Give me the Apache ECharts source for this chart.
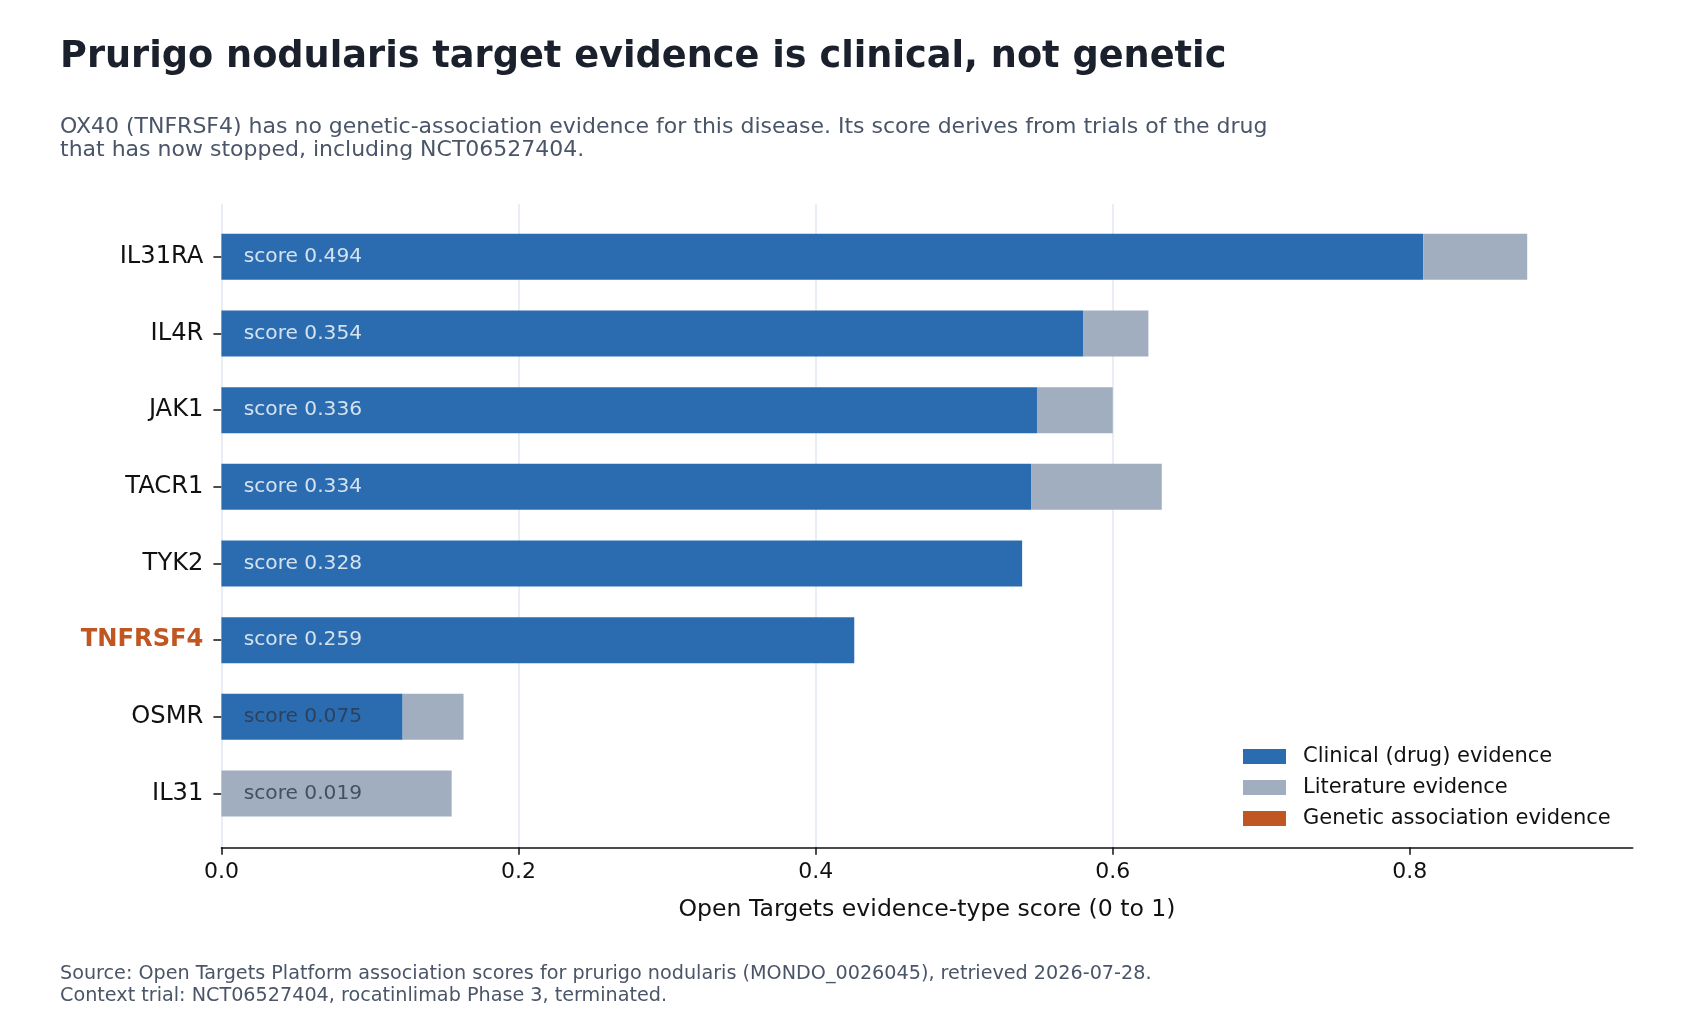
<!DOCTYPE html>
<html>
<head>
<meta charset="utf-8">
<script src="https://cdn.jsdelivr.net/npm/echarts@6/dist/echarts.min.js"></script>
<style>
  html, body { margin: 0; padding: 0; background: #fff; }
  #chart { width: 1700px; height: 1020px; }
</style>
</head>
<body>
<div id="chart"></div>
<script>
// values
var genes = ['IL31RA', 'IL4R', 'JAK1', 'TACR1', 'TYK2', 'TNFRSF4', 'OSMR', 'IL31'];
var clinical = [0.809, 0.580, 0.549, 0.545, 0.539, 0.426, 0.122, 0];
var literature = [0.070, 0.044, 0.051, 0.088, 0, 0, 0.041, 0.155];
var genetic = [0, 0, 0, 0, 0, 0, 0, 0];
var scores = [0.494, 0.354, 0.336, 0.334, 0.328, 0.259, 0.075, 0.019];
var xTicks = [0, 0.2, 0.4, 0.6, 0.8];
var highlightGene = 'TNFRSF4';

var FONT = '"DejaVu Sans", sans-serif';
var BLUE = '#2b6cb0', GRAY = '#a0aec0', ORANGE = '#c05621';
var X_MAX = 0.95;

var chart = echarts.init(document.getElementById('chart'));

chart.setOption({
    backgroundColor: '#fff',
    animation: false,
    textStyle: { fontFamily: FONT },
    title: [
        {
            text: 'Prurigo nodularis target evidence is clinical, not genetic',
            left: 60, top: 39, padding: 0,
            textStyle: { fontSize: 36.7, fontWeight: 'bold', color: '#1a202c', fontFamily: FONT }
        },
        {
            text: 'OX40 (TNFRSF4) has no genetic-association evidence for this disease. Its score derives from trials of the drug\nthat has now stopped, including NCT06527404.',
            left: 60, top: 116, padding: 0,
            textStyle: { fontSize: 22, fontWeight: 'normal', lineHeight: 23, color: '#4a5568', fontFamily: FONT }
        },
        {
            text: 'Source: Open Targets Platform association scores for prurigo nodularis (MONDO_0026045), retrieved 2026-07-28.\nContext trial: NCT06527404, rocatinlimab Phase 3, terminated.',
            left: 60, top: 963, padding: 0,
            textStyle: { fontSize: 19.2, fontWeight: 'normal', lineHeight: 22, color: '#4a5568', fontFamily: FONT }
        }
    ],
    legend: {
        data: ['Clinical (drug) evidence', 'Literature evidence', 'Genetic association evidence'],
        orient: 'vertical',
        left: 1243, top: 746,
        padding: 0,
        icon: 'rect',
        itemWidth: 43, itemHeight: 15, itemGap: 10,
        selectedMode: false,
        textStyle: { fontSize: 21, color: '#111', fontFamily: FONT, padding: [0, 0, 0, 12] }
    },
    grid: [
        // bars
        { left: 221.4, right: 67.3, top: 218.5, bottom: 188.2 },
        // visible x axis and gridlines
        { left: 221.4, right: 67.3, top: 204, bottom: 172.7 }
    ],
    xAxis: [
        { type: 'value', gridIndex: 0, min: 0, max: X_MAX, show: false },
        {
            type: 'value', gridIndex: 1, min: 0, max: X_MAX, interval: 0.2,
            name: 'Open Targets evidence-type score (0 to 1)',
            nameLocation: 'middle', nameGap: 51,
            nameTextStyle: { fontSize: 23.6, color: '#111', fontFamily: FONT },
            axisLine: { show: true, lineStyle: { color: '#111', width: 1.6 } },
            axisTick: { show: true, length: 7.5, lineStyle: { color: '#111', width: 1.5 }, customValues: xTicks },
            axisLabel: {
                fontSize: 22, color: '#111', margin: 14, customValues: xTicks,
                formatter: function (v) { return v.toFixed(1); }
            },
            splitLine: { show: true, showMaxLine: false, lineStyle: { color: '#e2e8f0', width: 1.5 } }
        }
    ],
    yAxis: [
        {
            type: 'category', gridIndex: 0, data: genes, inverse: true,
            axisLine: { show: false },
            axisTick: { show: true, alignWithLabel: true, length: 8, lineStyle: { color: '#111', width: 1.5 } },
            axisLabel: {
                fontSize: 24.2, color: '#111', margin: 18,
                formatter: function (v) { return v === highlightGene ? '{hl|' + v + '}' : v; },
                rich: { hl: { fontSize: 24.2, fontWeight: 'bold', color: ORANGE, fontFamily: FONT } }
            },
            splitLine: { show: false }
        },
        { type: 'value', gridIndex: 1, show: false }
    ],
    series: [
        {
            name: 'Clinical (drug) evidence', type: 'bar', stack: 'ev',
            xAxisIndex: 0, yAxisIndex: 0, barWidth: 46,
            itemStyle: { color: BLUE }, data: clinical
        },
        {
            name: 'Literature evidence', type: 'bar', stack: 'ev',
            xAxisIndex: 0, yAxisIndex: 0, barWidth: 46,
            itemStyle: { color: GRAY }, data: literature
        },
        {
            name: 'Genetic association evidence', type: 'bar', stack: 'ev',
            xAxisIndex: 0, yAxisIndex: 0, barWidth: 46,
            itemStyle: { color: ORANGE }, data: genetic
        },
        {
            // score labels inside bars
            name: 'score', type: 'scatter', xAxisIndex: 0, yAxisIndex: 0,
            symbolSize: 0, z: 5, silent: true,
            data: genes.map(function (g, i) {
                return {
                    value: [0.015, g],
                    label: { color: clinical[i] > 0.2 ? '#ffffff' : '#2d3748' }
                };
            }),
            label: {
                show: true, position: 'right', distance: 0,
                fontSize: 20.2, fontFamily: FONT,
                formatter: function (p) { return 'score ' + scores[p.dataIndex].toFixed(3); }
            }
        }
    ]
});
</script>
</body>
</html>
